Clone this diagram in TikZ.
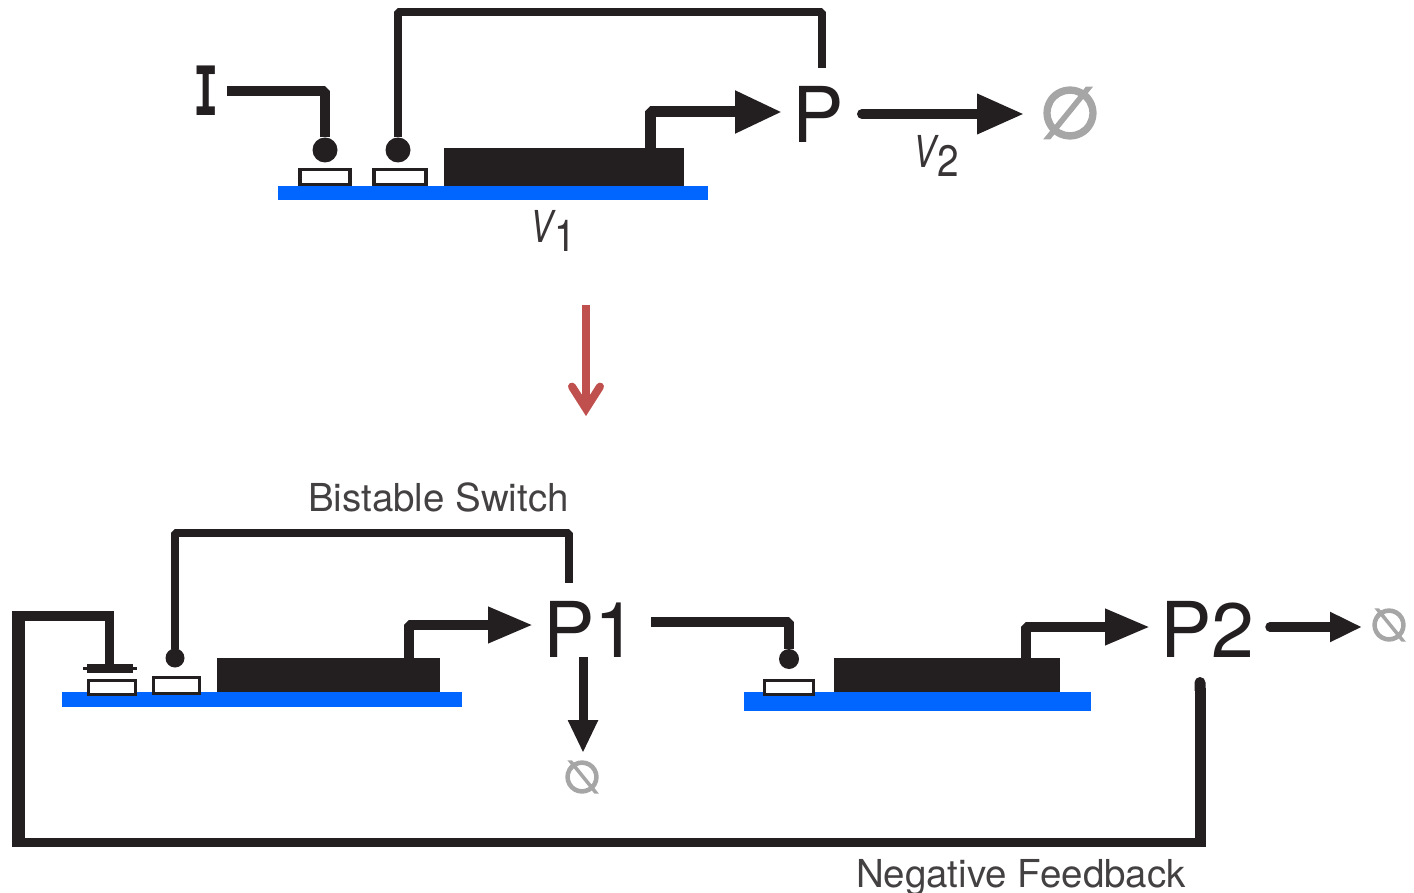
\documentclass[tikz,border=0pt]{standalone}
\usepackage{fontspec}
\setmainfont{TeX Gyre Heros}
\newfontfamily\slabfont{DejaVu Sans Mono}
\newfontfamily\symfontA[FakeBold=4]{DejaVu Sans}
\usetikzlibrary{arrows.meta}
\definecolor{ink}{HTML}{231F20}
\definecolor{chan}{HTML}{0066FF}
\definecolor{nullc}{HTML}{A6A6A6}
\definecolor{redarrow}{HTML}{C0504D}
\tikzset{
  x=1pt,y=-1pt,
  wire/.style={draw=ink,line width=#1,line join=bevel},
  wire/.default=10pt,
  bar/.style={fill=chan,draw=none,inner sep=0pt,outer sep=0pt},
  gate/.style={fill=ink,draw=none,inner sep=0pt,outer sep=0pt},
  site/.style={draw=ink,fill=white,line width=#1,inner sep=0pt,outer sep=0pt},
  site/.default=3.5pt,
  blob/.style={circle,fill=ink,draw=none,inner sep=0pt,outer sep=0pt},
  bigtxt/.style={text=ink,inner sep=0pt,outer sep=0pt,anchor=base west,font=\fontsize{77}{77}\selectfont},
  midtxt/.style={text=ink!85,inner sep=0pt,outer sep=0pt,font=\fontsize{38.5}{38.5}\selectfont},
  ratetxt/.style={text=ink!90,inner sep=0pt,outer sep=0pt,font=\fontsize{44}{44}\selectfont},
  nullset/.style={text=nullc,inner sep=0pt,outer sep=0pt},
  flow/.style n args={3}{draw=ink,line width=#1,line join=bevel,-{Triangle[length=#2,width=#3]}},
}
\newcommand{\ratelabel}[1]{\scalebox{0.78}[1]{\textit{V}}\kern-1pt\raisebox{-9pt}{\scalebox{0.88}[1]{#1}}}
\begin{document}
\begin{tikzpicture}
\useasboundingbox (0,0) rectangle (1414,893);
% ---------- top
\node[bar,minimum width=430pt,minimum height=14pt] (chanT) at (493,193) {};
\node[gate,minimum width=240pt,minimum height=38pt] (gateT) at (564,167) {};
\node[site,minimum width=50pt,minimum height=15pt] (s1T) at (325,177) {};
\node[site,minimum width=52pt,minimum height=15pt] (s2T) at (400,177) {};
\node[blob,minimum size=25pt] (d1T) at (325,150) {};
\node[blob,minimum size=25pt] (d2T) at (398,150) {};
\node[text=ink,inner sep=0pt,outer sep=0pt] (I) at (206,91) {\fontsize{68}{68}\selectfont\slabfont\bfseries\scalebox{0.62}[1]{I}};
\node[bigtxt] (P) at (792,143) {P};
\node[nullset,font=\fontsize{70}{70}\symfontA\selectfont] (nullT) at (1070,113) {∅};
\node[ratetxt,anchor=base west] (v1) at (530,243) {\ratelabel{1}};
\node[ratetxt,anchor=base west] (v2) at (913,168) {\ratelabel{2}};
\draw[wire] ([xshift=8pt]I.east) -- ++(98,0) coordinate (iw) -- (iw |- d1T.north);
\draw[wire=8pt] (d2T.north) -- (398,12) -- (822,12) -- (822,68) coordinate (pwire);
\draw[flow={11pt}{47pt}{40pt}] (gateT.north -| 650,148) -- (650,112) -- (782,112);
\draw[flow={10pt}{47pt}{38pt},line cap=round] (862,114) -- (1024,114);
% ---------- red arrow
\coordinate (redA) at (586,305);
\coordinate (redB) at (586,408.6);
\draw[draw=redarrow,line width=8pt] (redA) -- (redB);
\draw[draw=redarrow,line width=8pt,line cap=round,line join=miter] ([shift={(-14,-22)}]redB) -- (redB) -- ([shift={(14,-22)}]redB);
% ---------- bottom left
\node[midtxt,anchor=base west] (bs) at (308,511) {Bistable Switch};
\node[bar,minimum width=400pt,minimum height=15pt] (chanL) at (262,699.5) {};
\node[gate,minimum width=223pt,minimum height=34pt] (gateL) at (328.5,675) {};
\node[site=3pt,minimum width=47pt,minimum height=14pt] (s1L) at (111.5,687) {};
\node[site=3.5pt,minimum width=46pt,minimum height=16pt] (s2L) at (176.5,685.5) {};
\node[blob,minimum size=19pt] (d2L) at (175,658) {};
\node[gate,minimum width=46pt,minimum height=9pt] (inh) at (110,668.5) {};
\draw[draw=ink,line width=3pt] (inh.west) ++(-4,0) -- ++(54,0);
\node[bigtxt] (P1) at (543,657) {P1};
\draw[wire=8pt] (d2L.north) -- (175,533) -- (569,533) -- (569,583);
\draw[flow={10pt}{45pt}{34pt}] (409,658) -- (409,625) -- (533,625);
\draw[flow={9pt}{33pt}{28pt}] (583,657) -- (583,753);
\node[nullset,font=\fontsize{44}{44}\symfontA\selectfont] (nullL) at (582,777) {\reflectbox{∅}};
% ---------- bottom right
\node[bar,minimum width=347pt,minimum height=19pt] (chanR) at (917.5,701.5) {};
\node[gate,minimum width=226pt,minimum height=34pt] (gateR) at (947,675) {};
\node[site=3pt,minimum width=49pt,minimum height=14pt] (s1R) at (789,687) {};
\node[blob,minimum size=20pt] (d1R) at (789,659) {};
\node[bigtxt] (P2) at (1160,657) {P2};
\draw[wire=10pt] (651,622) -- (789,622) -- (d1R.north);
\draw[flow={10pt}{45pt}{34pt}] (1026,658) -- (1026,627) -- (1150,627);
\draw[flow={9.5pt}{32pt}{28pt},line cap=round] (1270,627) -- (1362,627);
\node[nullset,font=\fontsize{44}{44}\symfontA\selectfont] (nullR) at (1389,625) {\reflectbox{∅}};
% ---------- feedback
\coordinate (fbStart) at (1200,677);
\coordinate (fbA) at (1200,842);
\coordinate (fbB) at (18.5,842);
\coordinate (fbC) at (18.5,616);
\coordinate (fbD) at (109.5,616);
\draw[wire=11pt,{Round Cap[]}-] (fbStart) -- ([yshift=-4.5pt]fbA);
\draw[wire=9pt] ([xshift=5.5pt]fbA) -- (fbB);
\draw[wire=12.5pt] ([yshift=-4.5pt]fbB) -- ([yshift=5pt]fbC);
\draw[wire=10pt] ([xshift=-6pt]fbC) -- ([xshift=4.5pt]fbD);
\draw[wire=9pt] ([yshift=5pt]fbD) -- (fbD |- inh.north);
\node[midtxt,anchor=base west] (nf) at (856,887) {Negative Feedback};
\end{tikzpicture}
\end{document}
